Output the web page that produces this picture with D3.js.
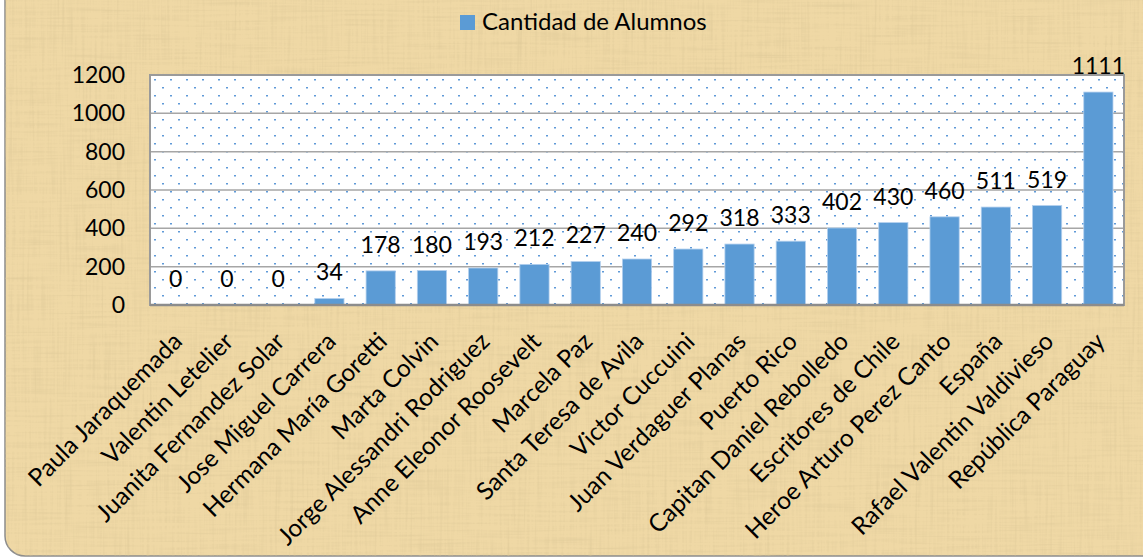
<!DOCTYPE html>
<html>
<head>
<meta charset="utf-8">
<script src="https://cdn.jsdelivr.net/npm/d3@7"></script>
<style>
  body { margin: 0; background: #ffffff; }
  svg { display: block; font-family: Lato, "Open Sans", sans-serif; }
</style>
</head>
<body>
<div id="chart"></div>
<script>
// escuelas y cantidad de alumnos
var escuelas = ["Paula Jaraquemada", "Valentin Letelier", "Juanita Fernandez Solar",
  "Jose Miguel Carrera", "Hermana María Goretti", "Marta Colvin", "Jorge Alessandri Rodriguez",
  "Anne Eleonor Roosevelt", "Marcela Paz", "Santa Teresa de Avila", "Victor Cuccuini",
  "Juan Verdaguer Planas", "Puerto Rico", "Capitan Daniel Rebolledo", "Escritores de Chile",
  "Heroe Arturo Perez Canto", "España", "Rafael Valentin Valdivieso", "República Paraguay"];
var alumnos = [0, 0, 0, 34, 178, 180, 193, 212, 227, 240, 292, 318, 333, 402, 430, 460, 511, 519, 1111];
var yTicks = [0, 200, 400, 600, 800, 1000, 1200];
var serie = "Cantidad de Alumnos";

var W = 1143, H = 557;
var svg = d3.select("#chart").append("svg")
  .attr("width", W)
  .attr("height", H);

var defs = svg.append("defs");

// textura tipo papiro
var f = defs.append("filter").attr("id", "paper")
  .attr("x", 0).attr("y", 0).attr("width", 1).attr("height", 1);
f.append("feTurbulence").attr("type", "fractalNoise")
  .attr("baseFrequency", "0.4 0.015").attr("numOctaves", 2).attr("seed", 4).attr("result", "n1");
f.append("feTurbulence").attr("type", "fractalNoise")
  .attr("baseFrequency", "0.015 0.4").attr("numOctaves", 2).attr("seed", 9).attr("result", "n2");
f.append("feBlend").attr("in", "n1").attr("in2", "n2").attr("mode", "multiply").attr("result", "n3");
f.append("feColorMatrix").attr("in", "n3").attr("type", "matrix")
  .attr("values", "0 0 0 0 0.70  0 0 0 0 0.56  0 0 0 0 0.30  -1.5 0 0 0 0.72")
  .attr("result", "tint");
f.append("feComposite").attr("in", "tint").attr("in2", "SourceAlpha").attr("operator", "in");

// puntos del area de trazado
var pat = defs.append("pattern").attr("id", "dots")
  .attr("patternUnits", "userSpaceOnUse")
  .attr("x", 150).attr("y", 75)
  .attr("width", 16).attr("height", 16);
pat.append("rect").attr("width", 16).attr("height", 16).attr("fill", "#ffffff");
pat.append("rect").attr("x", 4).attr("y", 4).attr("width", 2).attr("height", 1.5).attr("fill", "#5f9ad8");
pat.append("rect").attr("x", 12).attr("y", 12).attr("width", 2).attr("height", 1.5).attr("fill", "#5f9ad8");

// marco
svg.append("rect")
  .attr("x", 5).attr("y", -40).attr("width", W + 40).attr("height", H - 1 + 40)
  .attr("rx", 20).attr("fill", "#efd8a5")
  .attr("stroke", "#8c8c8c").attr("stroke-width", 1.5);
svg.append("rect")
  .attr("x", 5).attr("y", -40).attr("width", W + 40).attr("height", H - 1 + 40)
  .attr("rx", 20).attr("fill", "#000")
  .attr("filter", "url(#paper)");

var margin = {left: 150, right: 19, top: 75, bottom: 252};
var x = d3.scaleBand()
  .domain(escuelas)
  .range([margin.left, W - margin.right])
  .paddingInner(0.43)
  .paddingOuter(0.215);
var y = d3.scaleLinear()
  .domain([0, 1200])
  .range([H - margin.bottom, margin.top]);

// fondo del area
svg.append("rect")
  .attr("x", margin.left).attr("y", margin.top)
  .attr("width", W - margin.right - margin.left)
  .attr("height", y(0) - margin.top)
  .attr("fill", "url(#dots)");

// grilla
svg.append("g").selectAll("line")
  .data(yTicks.slice(1))
  .enter().append("line")
  .attr("x1", margin.left).attr("x2", W - margin.right)
  .attr("y1", function(d) { return y(d); })
  .attr("y2", function(d) { return y(d); })
  .attr("stroke", "#a6a6a6")
  .attr("stroke-width", 1.5);

svg.append("rect")
  .attr("x", margin.left).attr("y", margin.top)
  .attr("width", W - margin.right - margin.left)
  .attr("height", y(0) - margin.top)
  .attr("fill", "none")
  .attr("stroke", "#9a9a9a").attr("stroke-width", 2);

// barras
svg.append("g").selectAll("rect")
  .data(alumnos)
  .enter().append("rect")
  .attr("x", function(d, i) { return x(escuelas[i]); })
  .attr("y", function(d) { return y(d); })
  .attr("width", x.bandwidth())
  .attr("height", function(d) { return y(0) - y(d); })
  .attr("fill", "#5b9bd5")
  .attr("stroke", "#b4d0ee")
  .attr("stroke-width", 0.8);

// etiquetas de valores
svg.append("g").selectAll("text")
  .data(alumnos)
  .enter().append("text")
  .attr("x", function(d, i) { return x(escuelas[i]) + x.bandwidth() / 2; })
  .attr("y", function(d) { return y(d) - 18; })
  .attr("text-anchor", "middle")
  .attr("font-size", 23)
  .attr("fill", "#000")
  .text(function(d) { return d; });

// eje y
var yAxis = svg.append("g")
  .attr("transform", "translate(" + margin.left + ",0)")
  .call(d3.axisLeft(y).tickValues(yTicks).tickFormat(d3.format("d")).tickSize(0).tickPadding(25));
yAxis.select(".domain").remove();
yAxis.selectAll("text").attr("font-size", 23).attr("fill", "#000")
  .attr("font-family", "Lato, sans-serif");

// eje x
svg.append("line")
  .attr("x1", margin.left).attr("x2", W - margin.right)
  .attr("y1", y(0)).attr("y2", y(0))
  .attr("stroke", "#8c8c8c").attr("stroke-width", 2.5);

var xAxis = svg.append("g")
  .attr("transform", "translate(0," + y(0) + ")")
  .call(d3.axisBottom(x).tickSize(0));
xAxis.select(".domain").remove();
xAxis.selectAll("text")
  .attr("y", 0).attr("dy", 0)
  .attr("transform", "translate(8,38) rotate(-45)")
  .attr("text-anchor", "end")
  .attr("font-size", 24.5)
  .attr("font-family", "Lato, sans-serif")
  .attr("fill", "#000");

// leyenda
var leg = svg.append("g");
leg.append("rect")
  .attr("x", 460).attr("y", 15).attr("width", 15).attr("height", 15)
  .attr("fill", "#5b9bd5");
leg.append("text")
  .attr("x", 482).attr("y", 30)
  .attr("font-size", 24)
  .attr("fill", "#000")
  .text(serie);
</script>
</body>
</html>
